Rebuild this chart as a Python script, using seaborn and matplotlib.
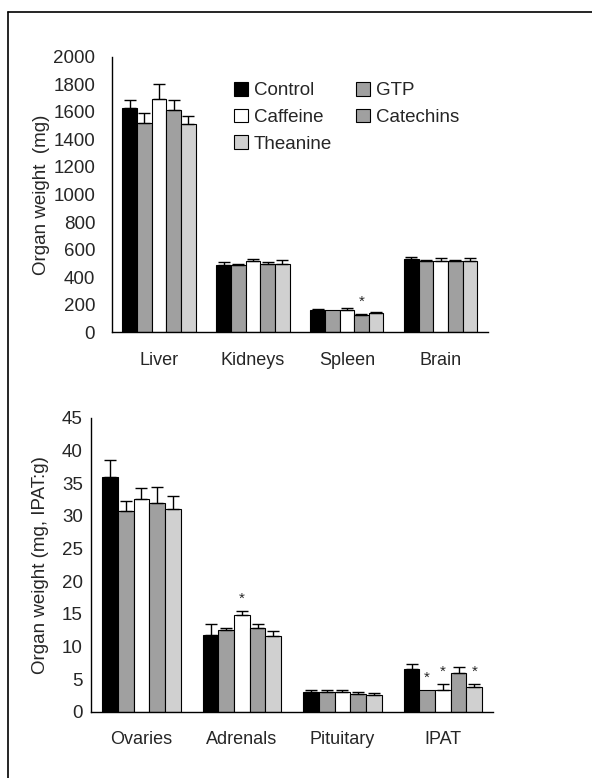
import numpy as np
import pandas as pd
import matplotlib
matplotlib.use('Agg')
import matplotlib.pyplot as plt
from matplotlib.lines import Line2D
import seaborn as sns

groups = ['Control', 'GTP', 'Caffeine', 'Catechins', 'Theanine']
colors = ['#000000', '#a0a0a0', '#ffffff', '#a0a0a0', '#d0d0d0']

organs_top = ['Liver', 'Kidneys', 'Spleen', 'Brain']
control_top = [1630, 490, 162, 533]
gtp_top = [1520, 485, 160, 519]
caffeine_top = [1697, 519, 162, 519]
catechins_top = [1617, 497, 128, 519]
theanine_top = [1510, 495, 138, 516]
control_top_err = [58, 19, 8, 10]
gtp_top_err = [72, 12, 0, 2]
caffeine_top_err = [102, 14, 13, 17]
catechins_top_err = [70, 10, 5, 2]
theanine_top_err = [58, 26, 12, 20]
stars_top = [('Spleen', 'Catechins')]

organs_bot = ['Ovaries', 'Adrenals', 'Pituitary', 'IPAT']
control_bot = [35.9, 11.7, 3.1, 6.5]
gtp_bot = [30.8, 12.6, 3.05, 3.3]
caffeine_bot = [32.5, 14.8, 3.05, 3.3]
catechins_bot = [32.0, 12.9, 2.8, 6.0]
theanine_bot = [31.0, 11.6, 2.65, 3.8]
control_bot_err = [2.7, 1.7, 0.3, 0.8]
gtp_bot_err = [1.5, 0.3, 0.25, 0.0]
caffeine_bot_err = [1.7, 0.6, 0.35, 1.0]
catechins_bot_err = [2.4, 0.5, 0.3, 0.8]
theanine_bot_err = [2.0, 0.8, 0.25, 0.5]
stars_bot = [('Adrenals', 'Caffeine'), ('IPAT', 'GTP'), ('IPAT', 'Caffeine'), ('IPAT', 'Theanine')]


def make_df(organs, vals, errs):
    rows = []
    for g, v, e in zip(groups, vals, errs):
        for o, vv, ee in zip(organs, v, e):
            rows.append({'organ': o, 'group': g, 'value': vv, 'err': ee})
    return pd.DataFrame(rows)


df_top = make_df(organs_top,
                 [control_top, gtp_top, caffeine_top, catechins_top, theanine_top],
                 [control_top_err, gtp_top_err, caffeine_top_err, catechins_top_err, theanine_top_err])
df_bot = make_df(organs_bot,
                 [control_bot, gtp_bot, caffeine_bot, catechins_bot, theanine_bot],
                 [control_bot_err, gtp_bot_err, caffeine_bot_err, catechins_bot_err, theanine_bot_err])

sns.set_style('white')
plt.rcParams['font.family'] = ['Liberation Sans', 'DejaVu Sans']
plt.rcParams['font.size'] = 13

fig = plt.figure(figsize=(5.92, 7.78), dpi=100)
ax1 = fig.add_axes([0.189, 0.573, 0.635, 0.354])
ax2 = fig.add_axes([0.154, 0.085, 0.679, 0.378])


def draw(ax, df, organs, ymax, ystep, ylabel, stars, star_off, ypad, lpad):
    sns.barplot(data=df, x='organ', y='value', hue='group', order=organs,
                hue_order=groups, palette=colors, edgecolor='black', linewidth=0.8,
                width=0.78, errorbar=None, legend=False, ax=ax)
    # error bars (upper only) at bar centres
    centers = {}
    bar_conts = list(ax.containers)
    for gi, cont in enumerate(bar_conts):
        for oi, patch in enumerate(cont.patches):
            x = patch.get_x() + patch.get_width() / 2
            row = df[(df.group == groups[gi]) & (df.organ == organs[oi])].iloc[0]
            centers[(organs[oi], groups[gi])] = (x, row.value + row.err)
            if row.err > 0:
                ax.errorbar(x, row.value, yerr=[[0], [row.err]], fmt='none',
                            ecolor='black', elinewidth=1, capsize=4, capthick=1)
    for o, g in stars:
        x, top = centers[(o, g)]
        ax.text(x, top + star_off, '*', ha='center', va='bottom', fontsize=11)
    ax.set_xlim(-0.5, len(organs) - 0.5)
    ax.set_ylim(0, ymax)
    ax.set_yticks(np.arange(0, ymax + ystep / 2, ystep))
    ax.set_xticks(np.arange(len(organs)))
    ax.set_xticklabels(organs)
    ax.set_xticks(np.arange(len(organs)) + 0.5, minor=True)
    ax.tick_params(axis='x', which='major', length=0, pad=14, labelsize=13)
    ax.tick_params(axis='x', which='minor', length=6, direction='in', width=1, color='black')
    ax.tick_params(axis='y', length=6, direction='in', width=1, color='black',
                   pad=ypad, labelsize=13.5)
    ax.set_xlabel('')
    ax.set_ylabel(ylabel, labelpad=lpad, fontsize=13.5)
    for s in ['top', 'right']:
        ax.spines[s].set_visible(False)
    for s in ['left', 'bottom']:
        ax.spines[s].set_color('black')
        ax.spines[s].set_linewidth(1)


draw(ax1, df_top, organs_top, 2000, 200, 'Organ weight  (mg)', stars_top, 40, 12, 2)
draw(ax2, df_bot, organs_bot, 45, 5, 'Organ weight (mg, IPAT:g)', stars_bot, 0.8, 6, 9)

handles = [plt.Rectangle((0, 0), 1, 1, facecolor=c, edgecolor='black', linewidth=0.8)
           for c in colors]
order = [0, 2, 4, 1, 3]
ax1.legend([handles[i] for i in order], [groups[i] for i in order], ncol=2,
           loc='upper left', bbox_to_anchor=(0.28, 0.97), frameon=False,
           handlelength=0.75, handleheight=0.75, handletextpad=0.3,
           columnspacing=1.3, labelspacing=0.5, fontsize=13.5)

# frame around figure
fig.add_artist(Line2D([8 / 592, 1], [1 - 12 / 778, 1 - 12 / 778], color='black', lw=1.2))
fig.add_artist(Line2D([8 / 592, 8 / 592], [0, 1 - 12 / 778], color='black', lw=1.2))

fig.savefig('out.png', dpi=100)
